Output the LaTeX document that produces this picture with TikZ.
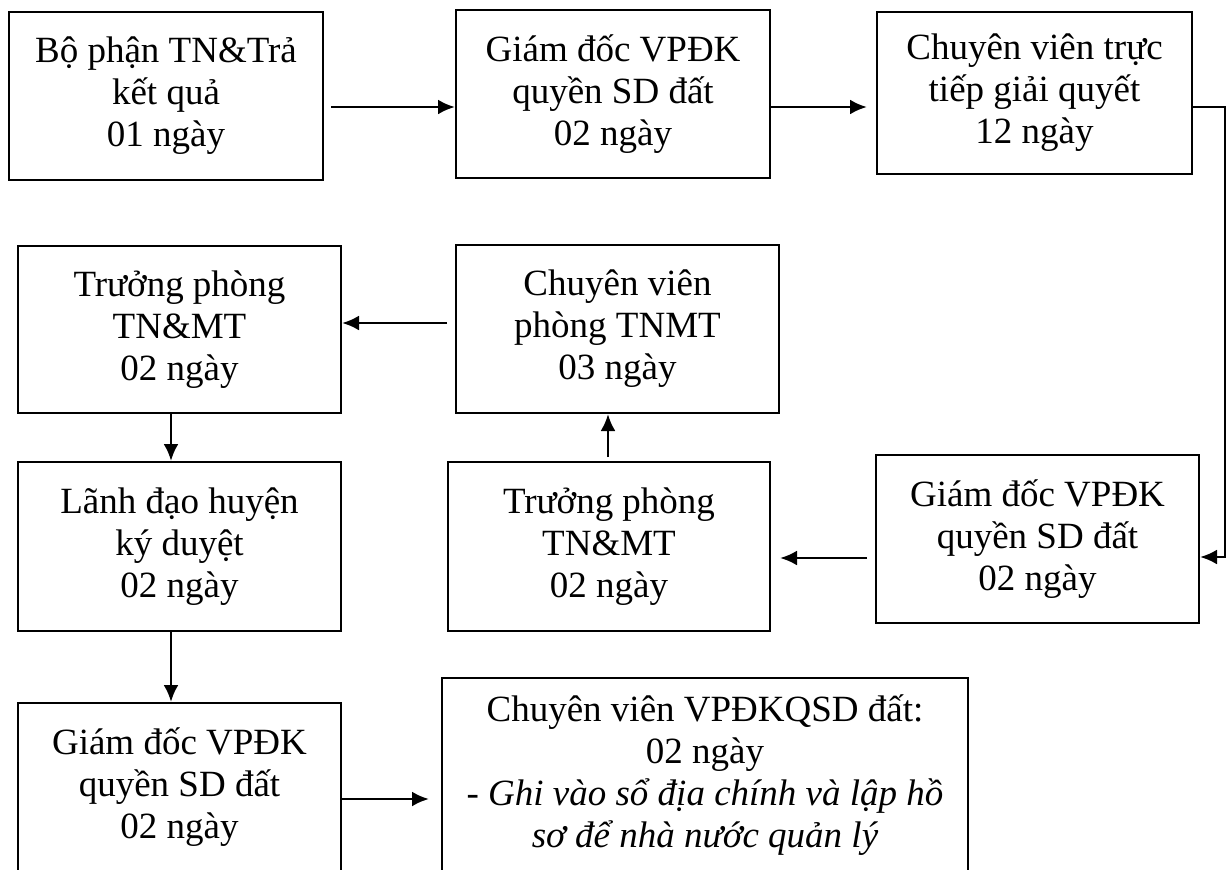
\documentclass[tikz,border=0pt]{standalone}
\usepackage{fontspec}
\setmainfont{Liberation Serif}
\usepackage{tikz}
\usetikzlibrary{arrows.meta, calc}
\tikzstyle{box} = [draw, line width=1pt, minimum width=161.5pt, minimum height=84pt, align=center, inner sep=0pt, font=\fontsize{18.5}{21}\selectfont]
\tikzstyle{flow} = [-{Latex[length=8.5pt, width=7.5pt]}, line width=1.4pt]

\begin{document}
\begin{tikzpicture}[x=0.5pt, y=-0.5pt]

\useasboundingbox (0, 0) rectangle (1231, 869);
\clip (0, 0) rectangle (1231, 869);
\fill [white] (0, 0) rectangle (1231, 869);

% Row 1
\node [box, minimum width=157pt] (tiepnhan) at (166, 96) {Bộ phận TN\&Trả\\kết quả\\01 ngày};
\node [box, minimum width=157pt] (giamdoc1) at (613, 94) {Giám đốc VPĐK\\quyền SD đất\\02 ngày};
\node [box, minimum width=157.5pt, minimum height=81pt] (chuyenvien) at (1034.5, 93) {Chuyên viên trực\\tiếp giải quyết\\12 ngày};

% Row 2
\node [box, minimum height=83.5pt] (truongphong2) at (179.5, 329.5) {Trưởng phòng\\TN\&MT\\02 ngày};
\node [box] (cvphong) at (617.5, 329) {Chuyên viên\\phòng TNMT\\03 ngày};

% Row 3
\node [box, minimum height=84.5pt] (lanhdao) at (179.5, 546.5) {Lãnh đạo huyện\\ký duyệt\\02 ngày};
\node [box, minimum width=161pt, minimum height=84.5pt] (truongphong1) at (609, 546.5) {Trưởng phòng\\TN\&MT\\02 ngày};
\node [box] (giamdoc2) at (1037.5, 539) {Giám đốc VPĐK\\quyền SD đất\\02 ngày};

% Row 4 (cut at the bottom)
\node [box, minimum height=84.5pt] (giamdoc3) at (179.5, 787.5) {Giám đốc VPĐK\\quyền SD đất\\02 ngày};
\node [box, minimum width=263pt, minimum height=97pt] (cvvpdk) at (705, 775) {Chuyên viên VPĐKQSD đất:\\02 ngày\\\textit{- Ghi vào sổ địa chính và lập hồ}\\\textit{sơ để nhà nước quản lý}};

% Connectors
\coordinate (turn) at (1225, 557);
\draw [flow] ($(tiepnhan.east)+(3.5pt,-5.5pt)$) -- ($(giamdoc1.west |- tiepnhan.east)+(0,-5.5pt)$);
\draw [flow] ($(giamdoc1.east)+(0,-6.5pt)$) -- ($(chuyenvien.west |- giamdoc1.east)+(-4.5pt,-6.5pt)$);
\draw [flow] ($(chuyenvien.east)+(0,-7pt)$) -| (turn) -- (turn -| giamdoc2.east);
\draw [flow] ($(giamdoc2.west)+(-4pt,-9.5pt)$) -- ($(truongphong1.east |- giamdoc2.west)+(4.5pt,-9.5pt)$);
\draw [flow] ($(truongphong1.north)+(-0.5pt,2pt)$) -- ($(truongphong1.north |- cvphong.south)+(-0.5pt,0)$);
\draw [flow] ($(cvphong.west)+(-4pt,3pt)$) -- ($(truongphong2.east |- cvphong.west)+(0,3pt)$);
\draw [flow] ($(truongphong2.south)+(-4.25pt,0)$) -- ($(lanhdao.north)+(-4.25pt,0)$);
\draw [flow] ($(lanhdao.south)+(-4.25pt,0)$) -- ($(giamdoc3.north)+(-4.25pt,0)$);
\draw [flow] ($(giamdoc3.east)+(0,-5.75pt)$) -- ($(cvvpdk.west |- giamdoc3.east)+(-6pt,-5.75pt)$);

\end{tikzpicture}
\end{document}
